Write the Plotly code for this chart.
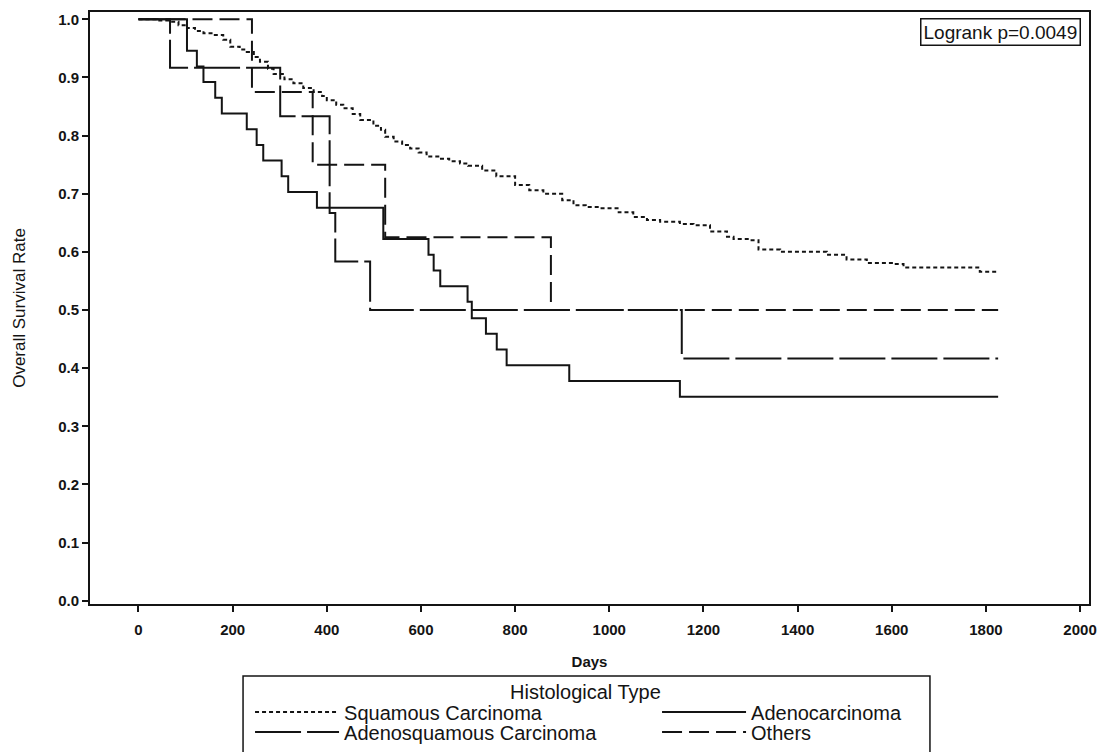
import plotly.graph_objects as go

# ---------------- data ----------------
group_names = ["Squamous Carcinoma", "Adenocarcinoma", "Adenosquamous Carcinoma", "Others"]

squamous_days = [0, 40, 67, 85, 103, 120, 138, 159, 180, 195, 215, 230, 245, 258, 275, 287,
                 310, 329, 350, 372, 390, 400, 420, 435, 455, 471, 499, 515, 524, 542, 560,
                 577, 595, 612, 640, 660, 683, 700, 730, 760, 800, 830, 860, 900, 924, 950,
                 980, 1020, 1051, 1080, 1108, 1150, 1179, 1214, 1250, 1264, 1299, 1317, 1363,
                 1462, 1504, 1547, 1603, 1625, 1787, 1826]
squamous_surv = [1.0, 0.998, 0.996, 0.990, 0.985, 0.980, 0.976, 0.973, 0.965, 0.953, 0.948,
                 0.944, 0.935, 0.927, 0.915, 0.906, 0.897, 0.890, 0.882, 0.875, 0.868, 0.861,
                 0.853, 0.847, 0.837, 0.827, 0.817, 0.810, 0.798, 0.790, 0.784, 0.778, 0.771,
                 0.764, 0.760, 0.756, 0.752, 0.748, 0.740, 0.730, 0.715, 0.706, 0.700, 0.689,
                 0.680, 0.677, 0.675, 0.668, 0.660, 0.655, 0.652, 0.648, 0.646, 0.635, 0.626,
                 0.622, 0.620, 0.604, 0.600, 0.595, 0.587, 0.581, 0.579, 0.573, 0.566, 0.566]

adeno_days = [0, 103, 124, 138, 163, 177, 230, 251, 265, 304, 318, 379, 520, 616, 627, 641,
              699, 708, 738, 761, 782, 915, 1150, 1826]
adeno_surv = [1.0, 0.946, 0.919, 0.892, 0.865, 0.838, 0.811, 0.784, 0.757, 0.730, 0.703,
              0.676, 0.622, 0.595, 0.568, 0.541, 0.514, 0.486, 0.459, 0.432, 0.405, 0.378,
              0.351, 0.351]

adenosq_days = [0, 67, 301, 406, 418, 492, 1154, 1826]
adenosq_surv = [1.0, 0.9167, 0.8333, 0.6667, 0.5833, 0.5, 0.4167, 0.4167]

others_days = [0, 241, 370, 524, 876, 1826]
others_surv = [1.0, 0.875, 0.75, 0.625, 0.5, 0.5]

x_ticks = [0, 200, 400, 600, 800, 1000, 1200, 1400, 1600, 1800, 2000]
y_ticks = [0.0, 0.1, 0.2, 0.3, 0.4, 0.5, 0.6, 0.7, 0.8, 0.9, 1.0]

logrank_text = "Logrank p=0.0049"
legend_title = "Histological Type"

# ---------------- styles ----------------
INK = "#141414"
FONT = "Liberation Sans, Arial, sans-serif"
# (name, days, surv, dash, legend id, legend entry width)
series = [
    (group_names[0], squamous_days, squamous_surv, "4px,3px", "legend", 308),
    (group_names[1], adeno_days, adeno_surv, "solid", "legend", 175),
    (group_names[2], adenosq_days, adenosq_surv, "46px,6px", "legend2", 308),
    (group_names[3], others_days, others_surv, "20px,7px", "legend2", 175),
]

fig = go.Figure()
for name, t, s, dash, leg, lw in series:
    fig.add_trace(go.Scatter(
        x=t, y=s, mode="lines", name=name,
        line=dict(shape="hv", color=INK, width=2, dash=dash),
        legend=leg, legendwidth=lw, hoverinfo="skip",
    ))

legend_common = dict(
    orientation="h", xanchor="left", yanchor="top", x=0.1602,
    borderwidth=0, bgcolor="rgba(0,0,0,0)", itemwidth=84,
    font=dict(size=20, family=FONT, color=INK), traceorder="normal",
)

fig.update_layout(
    width=1110, height=752,
    margin=dict(l=90, r=21, t=12, b=148, pad=0, autoexpand=False),
    paper_bgcolor="white", plot_bgcolor="white",
    font=dict(family=FONT, color=INK),
    showlegend=True,
    legend=dict(y=-0.1495, **legend_common),
    legend2=dict(y=-0.1833, **legend_common),
    xaxis=dict(
        range=[-103, 2019], tickmode="array", tickvals=x_ticks,
        ticktext=[str(v) for v in x_ticks],
        ticks="outside", ticklen=6, tickwidth=1.5, tickcolor=INK,
        showline=True, mirror=True, linewidth=2, linecolor=INK,
        showgrid=False, zeroline=False, ticklabelstandoff=5,
        tickfont=dict(size=15, family=FONT, color=INK, weight="bold"),
        title=dict(text="Days", standoff=19,
                   font=dict(size=15, family=FONT, color=INK, weight="bold")),
        automargin=False,
    ),
    yaxis=dict(
        range=[-0.0057, 1.0126], tickmode="array", tickvals=y_ticks,
        ticktext=[f"{v:.1f}" for v in y_ticks],
        ticks="outside", ticklen=6, tickwidth=1.5, tickcolor=INK,
        showline=True, mirror=True, linewidth=2, linecolor=INK,
        showgrid=False, zeroline=False,
        tickfont=dict(size=15, family=FONT, color=INK, weight="bold"),
        title=dict(text="Overall Survival Rate", standoff=28,
                   font=dict(size=17, family=FONT, color=INK)),
        automargin=False,
    ),
    shapes=[dict(
        type="rect", xref="paper", yref="paper",
        x0=0.1532, x1=0.8408, y0=-0.1216, y1=-0.2635,
        line=dict(color=INK, width=1.5), fillcolor="rgba(0,0,0,0)", layer="below",
    )],
    annotations=[
        dict(text=logrank_text, xref="paper", yref="paper",
             x=0.992, y=0.9905, xanchor="right", yanchor="top",
             showarrow=False, bordercolor=INK, borderwidth=1.5, borderpad=2,
             bgcolor="white", font=dict(size=19, family=FONT, color=INK)),
        dict(text=legend_title, xref="paper", yref="paper",
             x=0.4960, y=-0.1486, xanchor="center", yanchor="middle",
             showarrow=False, font=dict(size=20, family=FONT, color=INK)),
    ],
)

fig.write_html("out.html", config={"displayModeBar": False},
               post_script="document.body.style.margin='0px';")
